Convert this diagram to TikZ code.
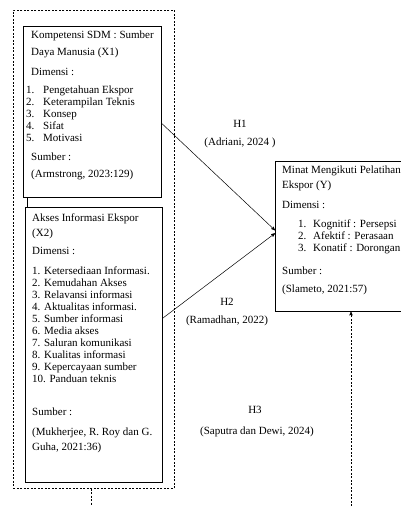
\documentclass[tikz,border=0pt]{standalone}
\usepackage{fontspec}
\setmainfont{Liberation Serif}
\usetikzlibrary{
        arrows,
        positioning
    }
\tikzset{>=stealth',auto}
\tikzset{varbox/.style={draw,line width=0.6pt,anchor=north west,inner sep=0pt}}
\tikzset{vartext/.style={anchor=north west,inner sep=0pt,align=left,font=\fontsize{11}{12}\selectfont}}
\tikzset{hyp/.style={inner sep=0pt,font=\fontsize{11}{12}\selectfont}}
\tikzset{grpline/.style={line width=0.5pt,dash pattern=on 2pt off 1.5pt}}

\begin{document}
\begin{tikzpicture}[x=1pt,y=-1pt]
                \useasboundingbox (0,0) rectangle (401,506);
                % boxes
                \node[varbox,grpline,minimum width=161,minimum height=478] (grp) at (13,10) {};
                \node[varbox,minimum width=138,minimum height=171] (x1) at (23,26) {};
                \node[varbox,minimum width=137,minimum height=275] (x2) at (25,207) {};
                \node[varbox,minimum width=130,minimum height=150] (y) at (275,161) {};
                % box texts
                \node[vartext] (x1txt) at (31,30.5) {Kompetensi SDM : Sumber\\[5pt]
                    Daya Manusia (X1)\\[8pt]
                    Dimensi :\\[6pt]
                    \hspace*{-5pt}\makebox[17pt][l]{1.}Pengetahuan Ekspor\\
                    \hspace*{-5pt}\makebox[17pt][l]{2.}Keterampilan Teknis\\
                    \hspace*{-5pt}\makebox[17pt][l]{3.}Konsep\\
                    \hspace*{-5pt}\makebox[17pt][l]{4.}Sifat\\
                    \hspace*{-5pt}\makebox[17pt][l]{5.}Motivasi\\[7pt]
                    Sumber :\\[5pt]
                    (Armstrong, 2023:129)};
                \node[vartext] (x2txt) at (32,213.5) {Akses Informasi Ekspor\\[3pt]
                    (X2)\\[6pt]
                    Dimensi :\\[8pt]
                    1. Ketersediaan Informasi.\\
                    2. Kemudahan Akses\\
                    3. Relavansi informasi\\
                    4. Aktualitas informasi.\\
                    5. Sumber informasi\\
                    6. Media akses\\
                    7. Saluran komunikasi\\
                    8. Kualitas informasi\\
                    9. Kepercayaan sumber\\
                    10. Panduan teknis\\[21pt]
                    Sumber :\\[8pt]
                    (Mukherjee, R. Roy dan G.\\[3pt]
                    Guha, 2021:36)};
                \node[vartext] (ytxt) at (282,165.5) {Minat Mengikuti Pelatihan\\[3pt]
                    Ekspor (Y)\\[8pt]
                    Dimensi :\\[7pt]
                    \hspace*{16pt}\makebox[15pt][l]{1.}Kognitif : Persepsi\\
                    \hspace*{16pt}\makebox[15pt][l]{2.}Afektif : Perasaan\\
                    \hspace*{16pt}\makebox[15pt][l]{3.}Konatif : Dorongan\\[11pt]
                    Sumber :\\[6pt]
                    (Slameto, 2021:57)};
                % hypotheses
                \node[hyp] (h1) at (240,124) {H1};
                \node[hyp] (h1src) at (240,143) {(Adriani, 2024 )};
                \node[hyp] (h2) at (227,302) {H2};
                \node[hyp] (h2src) at (227,321) {(Ramadhan, 2022)};
                \node[hyp] (h3) at (255,410) {H3};
                \node[hyp] (h3src) at (257,432) {(Saputra dan Dewi, 2024)};
                \coordinate (grpend) at (91,506);
                \coordinate (h3end) at (351,506);
                \draw[line width=0.6pt] (x1.south west -| 27,0) -- (x2.north west -| 27,0);
                \path[->,line width=0.5pt]
                    ([yshift=-11.5pt]x1.east) edge ([yshift=6pt]y.west)
                    ([yshift=26.5pt]x2.east) edge ([yshift=3pt]y.west);
                \draw[grpline] (grpend |- grp.south) -- (grpend);
                \draw[grpline,->] (h3end) -- (h3end |- y.south);
            \end{tikzpicture}
\end{document}
